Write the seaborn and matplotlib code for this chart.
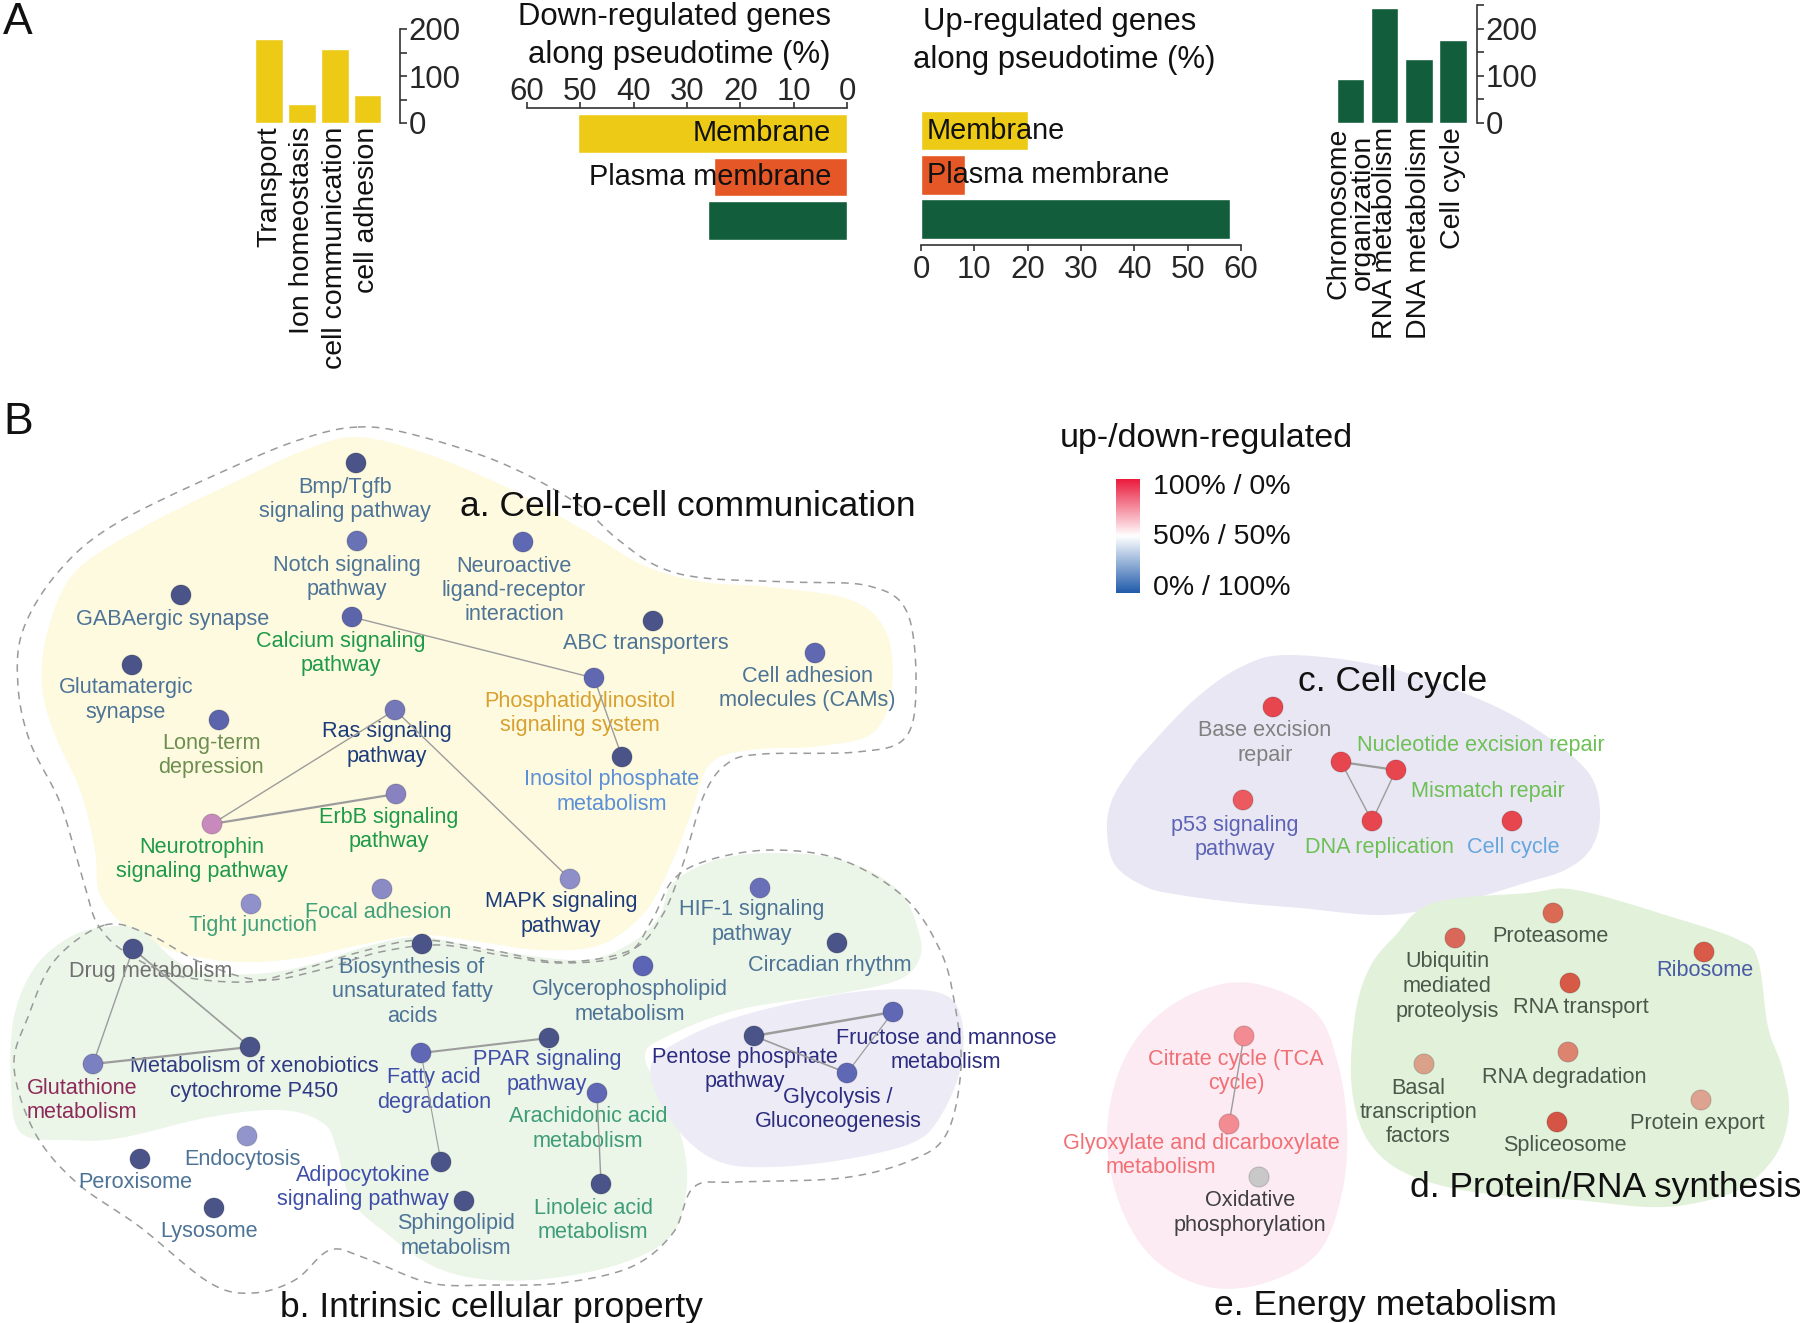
import numpy as np
import pandas as pd
import matplotlib
matplotlib.use("Agg")
import matplotlib.pyplot as plt
import seaborn as sns
from matplotlib import font_manager
from matplotlib.colors import LinearSegmentedColormap, Normalize
from matplotlib.cm import ScalarMappable

# figure size in pixels
W, H = 1800, 1323
DPI = 100

# Colors
YELLOW = "#ECCA16"
ORANGE = "#E55726"
GREEN = "#125D3C"
SPINE = "#333333"

# ---- panel A data ----
DOWN_BP = ["Transport", "Ion homeostasis", "cell communication", "cell adhesion"]
DOWN_BP_COUNT = [179, 40, 157, 60]
UP_BP = ["Chromosome\norganization", "RNA metabolism", "DNA metabolism", "Cell cycle"]
UP_BP_COUNT = [93, 244, 136, 176]
CC_TERMS = ["Membrane", "Plasma membrane", " "]
CC_COLORS = [YELLOW, ORANGE, GREEN]
DOWN_CC_PCT = [50.5, 25.0, 26.0]
UP_CC_PCT = [20.0, 8.3, 58.0]

# ---- panel B network data ----
NODE_LABELS = [
    "Bmp/Tgfb\nsignaling pathway", "Notch signaling\npathway",
    "Neuroactive\nligand-receptor\ninteraction", "GABAergic synapse",
    "Calcium signaling\npathway", "ABC transporters", "Glutamatergic\nsynapse",
    "Phosphatidylinositol\nsignaling system", "Cell adhesion\nmolecules (CAMs)",
    "Long-term\ndepression", "Ras signaling\npathway", "Inositol phosphate\nmetabolism",
    "ErbB signaling\npathway", "Neurotrophin\nsignaling pathway", "MAPK signaling\npathway",
    "Tight junction", "Focal adhesion",
    "HIF-1 signaling\npathway", "Circadian rhythm", "Drug metabolism",
    "Biosynthesis of\nunsaturated fatty\nacids", "Glycerophospholipid\nmetabolism",
    "Metabolism of xenobiotics\ncytochrome P450", "Glutathione\nmetabolism",
    "Fatty acid\ndegradation", "PPAR signaling\npathway", "Arachidonic acid\nmetabolism",
    "Endocytosis", "Peroxisome", "Adipocytokine\nsignaling pathway",
    "Sphingolipid\nmetabolism", "Linoleic acid\nmetabolism", "Lysosome",
    "Pentose phosphate\npathway", "Fructose and mannose\nmetabolism",
    "Glycolysis /\nGluconeogenesis",
    "Base excision\nrepair", "Nucleotide excision repair", "Mismatch repair",
    "p53 signaling\npathway", "DNA replication", "Cell cycle",
    "Proteasome", "Ubiquitin\nmediated\nproteolysis", "Ribosome", "RNA transport",
    "Basal\ntranscription\nfactors", "RNA degradation", "Protein export", "Spliceosome",
    "Citrate cycle (TCA\ncycle)", "Glyoxylate and dicarboxylate\nmetabolism",
    "Oxidative\nphosphorylation",
]
NODE_X = [356, 357, 523, 181, 352, 653, 132, 594, 815, 219, 395, 622, 396, 212, 570,
          251, 382, 760, 837, 133, 422, 643, 250, 93, 421, 549, 597, 247, 140, 441,
          464, 601, 214, 754, 893, 847, 1273, 1341, 1396, 1243, 1372, 1512, 1553, 1455,
          1704, 1570, 1424, 1568, 1701, 1557, 1244, 1229, 1259]
NODE_Y = [463, 541, 542, 595, 617, 621, 665, 678, 653, 720, 710, 757, 794, 824, 879,
          904, 889, 888, 943, 949, 944, 966, 1047, 1064, 1053, 1038, 1093, 1136, 1159,
          1162, 1201, 1184, 1208, 1036, 1012, 1073, 707, 762, 770, 800, 821, 821, 913,
          938, 952, 983, 1064, 1052, 1100, 1122, 1036, 1124, 1177]
NODE_COLORS = [
    "#4A5488", "#6A72B6", "#5F68B2", "#4A5488", "#5C64AA", "#4A5488", "#4A5488",
    "#5F68B0", "#5F68B0", "#5C64AC", "#7478B8", "#4A5488", "#8882C0", "#C88ABD",
    "#8E8EC8", "#9090CA", "#8A8AC5",
    "#6A70B8", "#4A5488", "#4A5488", "#4A5488", "#5B64B5", "#4A5488", "#7A80C0",
    "#6068B5", "#4A5488", "#6068B5", "#9294CC", "#4A5488", "#4A5488", "#4A5488",
    "#4A5488", "#4A5488", "#4A5488", "#6068B5", "#5E68B5",
    "#E8464E", "#E8464E", "#E8464E", "#EA5A5E", "#E8464E", "#E8464E",
    "#DB6A55", "#D9685A", "#D95A48", "#D65A45", "#D9A08A", "#DC8470", "#DDA290",
    "#D45545", "#F28C92", "#F28C92", "#C8C8C8",
]
LABEL_X = [345, 347, 514, 173, 341, 646, 126, 580, 807, 211, 387, 612, 389, 202, 561,
           253, 378, 752, 830, 151, 412, 630, 254, 82, 434, 547, 588, 242, 135, 363,
           456, 593, 209, 745, 946, 838, 1265, 1481, 1488, 1235, 1379, 1513, 1550, 1447,
           1705, 1581, 1418, 1564, 1697, 1565, 1236, 1201, 1250]
LABEL_Y = [487, 565, 566, 619, 641, 644, 688, 701, 676, 743, 732, 780, 817, 847, 902,
           925, 912, 910, 965, 971, 967, 990, 1067, 1088, 1078, 1060, 1117, 1159, 1182,
           1175, 1224, 1208, 1232, 1057, 1038, 1097, 731, 746, 791, 825, 847, 847, 936,
           962, 971, 1007, 1088, 1077, 1124, 1145, 1059, 1143, 1201]
LABEL_COLORS = [
    "#4D7396", "#4D7396", "#4D7396", "#4D7396", "#1E9A48", "#4D7396", "#4D7396",
    "#D8A030", "#4D7396", "#6E8E50", "#1C3C7A", "#5B8FD6", "#1E9A48", "#1E9A48",
    "#1C3C7A", "#3FA07A", "#3FA07A",
    "#4D7396", "#4D7396", "#707070", "#4D7396", "#4D7396", "#2F3A82", "#8E2A5A",
    "#3F4EA8", "#3F4EA8", "#3E9C78", "#4D7396", "#4D7396", "#3F4EA8", "#4D7396",
    "#3E9C78", "#4D7396", "#2C2C80", "#2C2C80", "#2C2C80",
    "#808080", "#6DC055", "#6DC055", "#5C62B5", "#6DC055", "#66A6DE",
    "#4A584A", "#4A584A", "#4A5AA5", "#4A584A", "#4A584A", "#4A584A", "#4A584A",
    "#4A584A", "#F07075", "#F07075", "#404040",
]
# labels whose second line is not centred under the first (pixel shift per line)
LINE_SHIFT = {"Glyoxylate and dicarboxylate metabolism": [0, -40]}
EDGES = [
    ("Calcium signaling pathway", "Phosphatidylinositol signaling system", 1.0),
    ("Phosphatidylinositol signaling system", "Inositol phosphate metabolism", 1.0),
    ("Ras signaling pathway", "Neurotrophin signaling pathway", 1.0),
    ("Ras signaling pathway", "MAPK signaling pathway", 1.0),
    ("ErbB signaling pathway", "Neurotrophin signaling pathway", 1.6),
    ("Drug metabolism", "Glutathione metabolism", 1.0),
    ("Drug metabolism", "Metabolism of xenobiotics cytochrome P450", 1.2),
    ("Glutathione metabolism", "Metabolism of xenobiotics cytochrome P450", 1.6),
    ("Fatty acid degradation", "PPAR signaling pathway", 1.5),
    ("Fatty acid degradation", "Adipocytokine signaling pathway", 0.8),
    ("Arachidonic acid metabolism", "Linoleic acid metabolism", 1.0),
    ("Pentose phosphate pathway", "Fructose and mannose metabolism", 1.8),
    ("Pentose phosphate pathway", "Glycolysis / Gluconeogenesis", 1.2),
    ("Fructose and mannose metabolism", "Glycolysis / Gluconeogenesis", 0.9),
    ("Nucleotide excision repair", "Mismatch repair", 1.6),
    ("Nucleotide excision repair", "DNA replication", 1.0),
    ("Mismatch repair", "DNA replication", 1.0),
    ("Citrate cycle (TCA cycle)", "Glyoxylate and dicarboxylate metabolism", 1.0),
]
GROUP_TITLES = ["a. Cell-to-cell communication", "b. Intrinsic cellular property",
                "c. Cell cycle", "d. Protein/RNA synthesis", "e. Energy metabolism"]

# background blobs (outline control points, pixels)
BLOB_A = [(358, 437), (430, 455), (510, 489), (587, 532), (645, 566), (704, 582),
          (770, 587), (851, 600), (886, 632), (892, 686), (874, 732), (822, 746),
          (751, 750), (710, 764), (692, 811), (673, 860), (645, 912), (600, 945),
          (540, 950), (480, 942), (421, 935), (360, 945), (300, 958), (240, 962),
          (180, 953), (130, 930), (100, 895), (95, 850), (80, 790), (55, 735),
          (42, 686), (48, 630), (76, 571), (147, 525), (235, 482), (305, 450)]
BLOB_B = [(70, 937), (105, 927), (140, 930), (175, 960), (210, 973), (267, 973),
          (316, 963), (365, 947), (421, 937), (491, 950), (582, 960), (631, 943),
          (659, 917), (673, 883), (716, 860), (772, 853), (842, 860), (898, 890),
          (919, 933), (919, 960), (898, 980), (842, 993), (737, 1010), (666, 1037),
          (645, 1055), (659, 1090), (680, 1133), (687, 1183), (673, 1233), (631, 1260),
          (561, 1277), (491, 1280), (435, 1267), (386, 1233), (351, 1200), (337, 1150),
          (323, 1123), (281, 1110), (210, 1117), (120, 1138), (70, 1140), (21, 1133),
          (11, 1083), (14, 1017), (35, 967)]
BLOB_B2 = [(652, 1063), (687, 1037), (737, 1017), (807, 1000), (877, 990), (940, 993),
           (961, 1017), (961, 1067), (940, 1117), (912, 1143), (842, 1160), (772, 1167),
           (723, 1163), (687, 1140), (659, 1100)]
BLOB_C = [(1289, 655), (1385, 667), (1481, 700), (1545, 735), (1590, 775), (1600, 817),
          (1590, 850), (1565, 870), (1528, 882), (1457, 903), (1385, 915), (1300, 908),
          (1241, 903), (1180, 895), (1146, 887), (1115, 865), (1107, 830), (1112, 800),
          (1130, 770), (1146, 750), (1194, 700), (1241, 667)]
BLOB_D = [(1370, 967), (1394, 937), (1433, 903), (1528, 893), (1576, 890), (1672, 917),
          (1739, 940), (1758, 960), (1768, 1027), (1782, 1067), (1789, 1110), (1777, 1153),
          (1744, 1187), (1696, 1203), (1648, 1207), (1576, 1200), (1481, 1193),
          (1423, 1180), (1385, 1160), (1361, 1127), (1351, 1077), (1356, 1010)]
BLOB_E = [(1251, 983), (1313, 1010), (1337, 1060), (1347, 1127), (1342, 1193),
          (1318, 1253), (1265, 1283), (1208, 1287), (1155, 1260), (1122, 1210),
          (1107, 1143), (1117, 1077), (1146, 1027), (1194, 993)]
DASH_A = [(358, 427), (411, 434), (499, 462), (575, 502), (616, 538), (657, 566),
          (704, 578), (792, 582), (869, 586), (907, 612), (916, 686), (905, 738),
          (857, 752), (763, 754), (728, 763), (704, 795), (683, 864), (662, 916),
          (631, 950), (561, 962), (491, 950), (421, 940), (360, 952), (300, 970),
          (246, 982), (175, 975), (125, 952), (98, 925), (86, 890), (76, 855),
          (59, 800), (30, 742), (18, 686), (23, 630), (59, 571), (117, 523),
          (235, 466), (305, 438)]
DASH_B = [(105, 925), (150, 935), (200, 962), (260, 980), (320, 970), (380, 952),
          (440, 945), (500, 955), (560, 963), (625, 955), (652, 920), (673, 880),
          (709, 860), (772, 850), (842, 860), (905, 898), (940, 950), (954, 1000),
          (961, 1067), (947, 1133), (912, 1160), (842, 1178), (737, 1182), (694, 1187),
          (673, 1233), (631, 1267), (561, 1283), (491, 1285), (430, 1283), (365, 1258),
          (330, 1250), (295, 1280), (253, 1293), (210, 1283), (140, 1227), (77, 1183),
          (35, 1133), (14, 1067), (28, 1017), (55, 960)]

# ---- fonts ----
sns.set_style("white")
plt.rcParams["font.family"] = ["Liberation Sans", "DejaVu Sans"]
_names = {f.name for f in font_manager.fontManager.ttflist}
HAS_NARROW = "Liberation Sans Narrow" in _names
NARROW = ["Liberation Sans Narrow", "Liberation Sans"] if HAS_NARROW else ["Liberation Sans"]
NS = 1.0 if HAS_NARROW else 0.8

fig = plt.figure(figsize=(W / DPI, H / DPI), dpi=DPI)
fig.patch.set_facecolor("white")

net = fig.add_axes([0, 0, 1, 1])
net.set_xlim(0, W)
net.set_ylim(H, 0)
net.axis("off")


def px_axes(x0, y0, x1, y1):
    ax = fig.add_axes([x0 / W, 1 - y1 / H, (x1 - x0) / W, (y1 - y0) / H])
    ax.patch.set_alpha(0)
    return ax


def smooth_closed(points, n=24):
    p = np.asarray(points, float)
    N = len(p)
    t = np.linspace(0, 1, n, endpoint=False)[:, None]
    segs = []
    for i in range(N):
        p0, p1, p2, p3 = p[i - 1], p[i], p[(i + 1) % N], p[(i + 2) % N]
        segs.append(0.5 * (2 * p1 + (p2 - p0) * t + (2 * p0 - 5 * p1 + 4 * p2 - p3) * t ** 2
                           + (3 * p1 - p0 - 3 * p2 + p3) * t ** 3))
    out = np.vstack(segs)
    return np.vstack([out, out[:1]])


def count_panel(box, terms, counts, color, xlim, ymax, width):
    ax = px_axes(*box)
    df = pd.DataFrame({"term": terms, "count": counts})
    sns.barplot(data=df, x="term", y="count", color=color, saturation=1,
                width=width, ax=ax)
    ax.set_xlim(*xlim)
    ax.set_ylim(0, ymax)
    ax.set_xlabel("")
    ax.set_ylabel("")
    for side in ("left", "top", "bottom"):
        ax.spines[side].set_visible(False)
    ax.spines["right"].set_linewidth(1.2)
    ax.spines["right"].set_color(SPINE)
    ax.yaxis.set_ticks_position("right")
    ax.set_yticks([0, 100, 200])
    ax.set_yticks(np.arange(50, ymax + 1, 100), minor=True)
    ax.tick_params(axis="y", which="both", direction="out", length=5, width=1.2,
                   color=SPINE, pad=1, labelsize=28 * NS)
    for lbl in ax.get_yticklabels():
        lbl.set_fontfamily(NARROW)
    # category names written below the bars, rotated
    ax.set_xticks(range(len(terms)))
    ax.set_xticklabels([])
    ax.tick_params(axis="x", length=0)
    for i, term in enumerate(terms):
        ax.text(i, -0.035, term, transform=ax.get_xaxis_transform(), rotation=90,
                ha="center", va="top", multialignment="center", linespacing=0.88,
                fontsize=20.5, color="#111111")
    return ax


def pct_panel(box, pct, xlim, ylim, side, label_x, label_ha, pad):
    ax = px_axes(*box)
    df = pd.DataFrame({"term": CC_TERMS, "pct": pct})
    sns.barplot(data=df, x="pct", y="term", hue="term", orient="h",
                palette=dict(zip(CC_TERMS, CC_COLORS)), saturation=1, width=0.89,
                legend=False, ax=ax)
    ax.set_xlim(*xlim)
    ax.set_ylim(*ylim)
    ax.set_xlabel("")
    ax.set_ylabel("")
    ax.set_yticks([])
    for s in ("left", "right", "top", "bottom"):
        ax.spines[s].set_visible(s == side)
    ax.spines[side].set_linewidth(1.2)
    ax.spines[side].set_color(SPINE)
    ax.xaxis.set_ticks_position(side)
    ax.set_xticks(range(0, 61, 10))
    ax.tick_params(axis="x", direction="out", length=4, width=1.2, color=SPINE,
                   pad=pad, labelsize=28 * NS)
    for lbl in ax.get_xticklabels():
        lbl.set_fontfamily(NARROW)
    for i, term in enumerate(CC_TERMS[:2]):
        ax.text(label_x, i, term, ha=label_ha, va="center", fontsize=26 * NS,
                fontfamily=NARROW, color="#111111")
    return ax


# ---- panel A ----
net.text(18, 23, "A", fontsize=32, ha="center", va="center", color="#111111")
count_panel((252.6, 29, 400, 123), DOWN_BP, DOWN_BP_COUNT, YELLOW, (-0.5, 3.99), 200, 0.85)
count_panel((1333.4, 5, 1477, 123), UP_BP, UP_BP_COUNT, GREEN, (-0.5, 3.7), 250, 0.8)
pct_panel((527, 108, 847, 243), DOWN_CC_PCT, (60, 0), (2.52, -0.586), "top", 3.0, "right", -3)
pct_panel((921, 107, 1241, 245), UP_CC_PCT, (0, 60), (2.586, -0.54), "bottom", 1.1, "left", 3)

for x, y, line in [(675, 17, "Down-regulated genes"), (679, 55, "along pseudotime (%)"),
                   (1060, 22, "Up-regulated genes"), (1064, 60, "along pseudotime (%)")]:
    net.text(x, y, line, ha="center", va="center", fontsize=28 * NS,
             fontfamily=NARROW, color="#111111")

# ---- panel B ----
net.text(18, 423, "B", fontsize=32, ha="center", va="center", color="#111111")

for pts, col in [(BLOB_A, "#FDFAE0"), (BLOB_B, "#EBF5E8"), (BLOB_B2, "#EDECF6"),
                 (BLOB_C, "#E9E7F3"), (BLOB_D, "#E1F1DA"), (BLOB_E, "#FCEBF2")]:
    c = smooth_closed(pts)
    net.fill(c[:, 0], c[:, 1], color=col, lw=0, zorder=0)
for pts in (DASH_A, DASH_B):
    c = smooth_closed(pts)
    net.plot(c[:, 0], c[:, 1], color="#9A9A9A", lw=1.1, ls=(0, (5, 4)), zorder=1)

keys = [lab.replace("\n", " ") for lab in NODE_LABELS]
pos = {k: (x, y) for k, x, y in zip(keys, NODE_X, NODE_Y)}

LINE_STEP = 24.5
for key, lab, lx, ly, lc in zip(keys, NODE_LABELS, LABEL_X, LABEL_Y, LABEL_COLORS):
    lines = lab.split("\n")
    shifts = LINE_SHIFT.get(key, [0] * len(lines))
    for k, line in enumerate(lines):
        net.text(lx + shifts[k], ly + k * LINE_STEP, line, ha="center", va="center",
                 fontsize=15.6, color=lc, zorder=2)

for a, b, w in EDGES:
    (x0, y0), (x1, y1) = pos[a], pos[b]
    net.plot([x0, x1], [y0, y1], color="#9C9C9C", lw=w, zorder=3,
             solid_capstyle="round")

nodes = pd.DataFrame({"key": keys, "x": NODE_X, "y": NODE_Y})
sns.scatterplot(data=nodes, x="x", y="y", hue="key",
                palette=dict(zip(keys, NODE_COLORS)), s=210,
                edgecolor=(0, 0, 0, 0.15), linewidth=0.8, legend=False,
                ax=net, zorder=4)
net.set_xlim(0, W)
net.set_ylim(H, 0)
net.axis("off")

for title, x, y, ha in zip(GROUP_TITLES, [460, 492, 1393, 1410, 1386],
                           [507, 1307, 682, 1188, 1306],
                           ["left", "center", "center", "left", "center"]):
    net.text(x, y, title, ha=ha, va="center", fontsize=25.5, color="#111111", zorder=5)

# legend for up/down ratio
net.text(1060, 438, "up-/down-regulated", ha="left", va="center", fontsize=24.5,
         color="#111111")
cmap = LinearSegmentedColormap.from_list("updown", ["#1F5AAA", "#FFFFFF", "#EA1A3C"])
cax = px_axes(1116, 479, 1140, 593)
cb = fig.colorbar(ScalarMappable(norm=Normalize(0, 100), cmap=cmap), cax=cax)
cb.set_ticks([])
cb.outline.set_visible(False)
for y, txt in [(487, "100% / 0%"), (537, "50% / 50%"), (588, "0% / 100%")]:
    net.text(1153, y, txt, ha="left", va="center", fontsize=20.5, color="#111111")

fig.savefig("out.png", dpi=DPI, facecolor="white")
